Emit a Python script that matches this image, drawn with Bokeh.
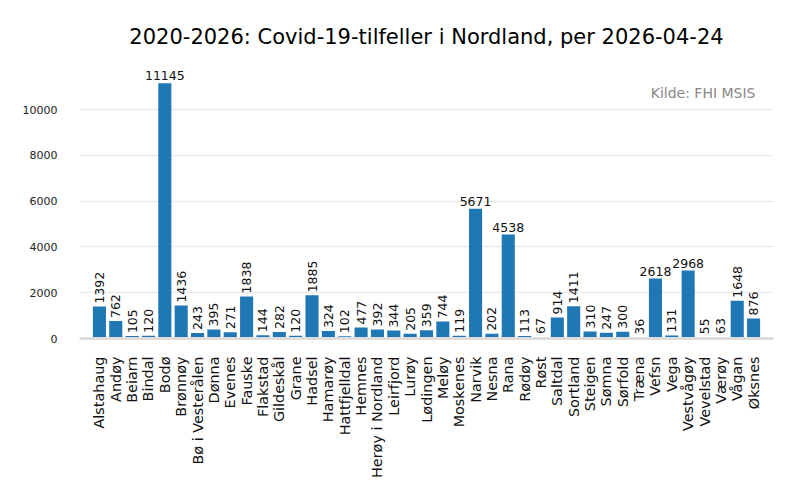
import math
from bokeh.plotting import figure
from bokeh.models import ColumnDataSource, FactorRange, Range1d, Label, FixedTicker
from bokeh.core.properties import value
from bokeh.embed import file_html
from bokeh.resources import INLINE

title_text = "2020-2026: Covid-19-tilfeller i Nordland, per 2026-04-24"
source_text = "Kilde: FHI MSIS"

kommuner = ["Alstahaug", "Andøy", "Beiarn", "Bindal", "Bodø", "Brønnøy", "Bø i Vesterålen",
            "Dønna", "Evenes", "Fauske", "Flakstad", "Gildeskål", "Grane", "Hadsel", "Hamarøy",
            "Hattfjelldal", "Hemnes", "Herøy i Nordland", "Leirfjord", "Lurøy", "Lødingen",
            "Meløy", "Moskenes", "Narvik", "Nesna", "Rana", "Rødøy", "Røst", "Saltdal",
            "Sortland", "Steigen", "Sømna", "Sørfold", "Træna", "Vefsn", "Vega", "Vestvågøy",
            "Vevelstad", "Værøy", "Vågan", "Øksnes"]
tilfeller = [1392, 762, 105, 120, 11145, 1436, 243, 395, 271, 1838, 144, 282, 120, 1885, 324,
             102, 477, 392, 344, 205, 359, 744, 119, 5671, 202, 4538, 113, 67, 914, 1411, 310,
             247, 300, 36, 2618, 131, 2968, 55, 63, 1648, 876]
y_ticks = [0, 2000, 4000, 6000, 8000, 10000]

FONT = "DejaVu Sans"
BAR = "#1f77b4"

src = ColumnDataSource(dict(k=kommuner, v=tilfeller))
hi = ColumnDataSource(dict(k=[k for k, t in zip(kommuner, tilfeller) if t >= 2000],
                           v=[t for t in tilfeller if t >= 2000],
                           lab=[str(t) for t in tilfeller if t >= 2000]))
lo = ColumnDataSource(dict(k=[k for k, t in zip(kommuner, tilfeller) if t < 2000],
                           v=[t for t in tilfeller if t < 2000],
                           lab=[str(t) for t in tilfeller if t < 2000]))

p = figure(width=792, height=492, output_backend="svg", toolbar_location=None,
           x_range=FactorRange(factors=kommuner, range_padding=0.035),
           y_range=Range1d(0, 12140),
           min_border_left=79, min_border_right=19, min_border_top=60, min_border_bottom=154)

p.title.text = title_text
p.title.align = "center"
p.title.text_font = FONT
p.title.text_font_size = "21px"
p.title.text_font_style = "normal"
p.title.text_color = "#000000"
p.title.standoff = 24

p.vbar(x="k", top="v", width=0.8, source=src, color=BAR, line_color=None)

p.text(x="k", y="v", text="lab", source=hi, text_align="center", text_baseline="bottom",
       y_offset=-3, text_font=value(FONT), text_font_size="12.5px", text_color="#111111")
p.text(x="k", y="v", text="lab", source=lo, angle=math.pi / 2, text_align="left",
       text_baseline="middle", y_offset=-3, text_font=value(FONT), text_font_size="12.5px",
       text_color="#111111")

p.add_layout(Label(x=676, y=246, x_units="screen", y_units="screen", text=source_text,
                   text_align="right", text_baseline="middle", text_font=FONT,
                   text_font_size="14px", text_color="#888888"))

p.outline_line_color = None
p.xgrid.grid_line_color = None
p.ygrid.grid_line_color = "#ebebeb"
p.ygrid.grid_line_width = 1.6

p.yaxis.ticker = FixedTicker(ticks=y_ticks)
p.yaxis.axis_line_color = None
p.yaxis.major_tick_line_color = None
p.yaxis.minor_tick_line_color = None
p.yaxis.major_label_standoff = 16
p.yaxis.major_label_text_font = FONT
p.yaxis.major_label_text_font_size = "11px"
p.yaxis.major_label_text_color = "#222222"

p.xaxis.axis_line_color = "#dddddd"
p.xaxis.axis_line_width = 3
p.xaxis.major_tick_line_color = None
p.xaxis.minor_tick_line_color = None
p.xaxis.major_label_orientation = math.pi / 2
p.xaxis.major_label_standoff = 12
p.xaxis.major_label_text_font = FONT
p.xaxis.major_label_text_font_size = "14.4px"
p.xaxis.major_label_text_color = "#111111"

open("out.html", "w").write(file_html(p, INLINE))
